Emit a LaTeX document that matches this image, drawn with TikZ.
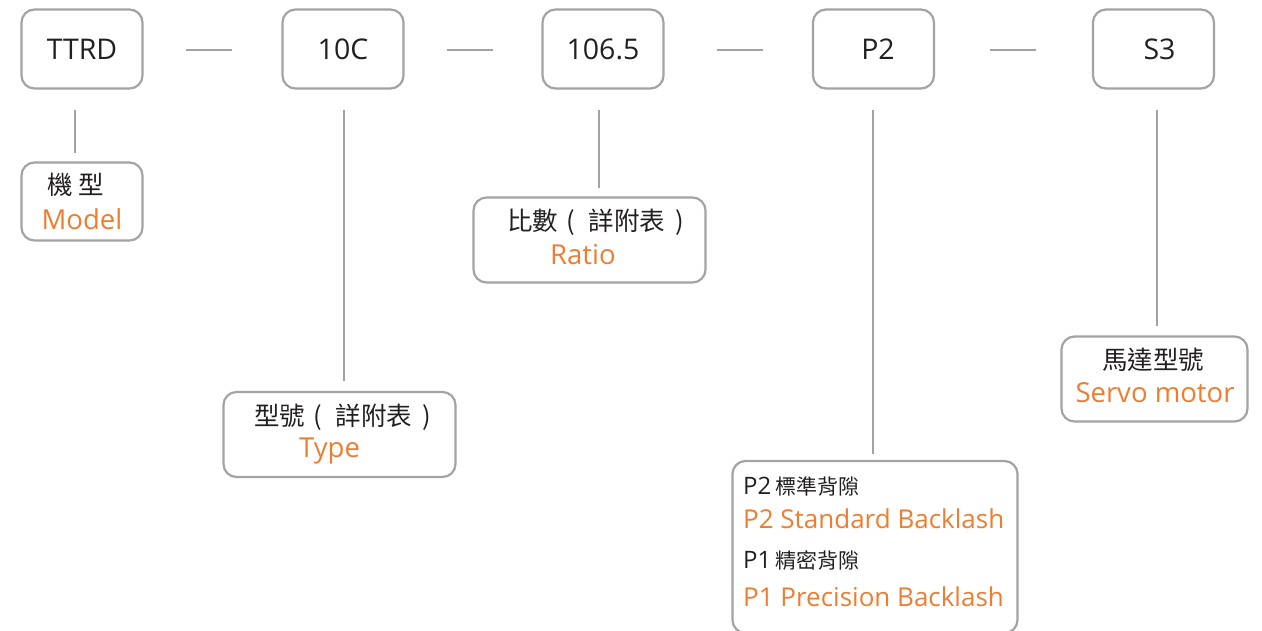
\documentclass[tikz,border=0pt]{standalone}
\usepackage{fontspec}
\setmainfont{Open Sans}
\newfontfamily\cjk{Noto Sans CJK TC}
\definecolor{frame}{HTML}{A3A3A5}
\definecolor{ink}{HTML}{231F20}
\definecolor{accent}{HTML}{ED7D31}
\newcommand{\paren}[5]{#1\hspace{#2}(\hspace{#3}#4\hspace{#5})}
\begin{document}
\begin{tikzpicture}[x=1pt,y=-1pt,
  box/.style={draw=frame, line width=2.2pt, rounded corners=13pt, inner sep=0pt},
  topbox/.style={box, minimum width=121pt, minimum height=79pt, font=\fontsize{28.5}{32}\selectfont, text=ink},
  link/.style={draw=frame, line width=2pt},
  zh/.style={inner sep=0pt, text=ink, font=\cjk\fontsize{25.5}{28}\selectfont},
  en/.style={inner sep=0pt, text=accent, font=\fontsize{27.5}{30}\selectfont},
  zhs/.style={inner sep=0pt, text=ink, font=\fontsize{24}{28}\selectfont},
  ens/.style={inner sep=0pt, text=accent, font=\fontsize{26}{30}\selectfont}]
\useasboundingbox (0,0) rectangle (1262,630);
% top row
\node[topbox] (ttrd) at (82,49) {TTRD};
\node[topbox] (type) at (343,49) {10C};
\node[topbox] (ratio) at (603,49) {106.5};
\node[topbox] (back) at (873.5,49) {\hspace{9pt}P2};
\node[topbox] (motor) at (1153.5,49) {\hspace{12pt}S3};
% dashes between top boxes
\coordinate (d1a) at (186,50); \coordinate (d1b) at (232,50);
\coordinate (d2a) at (447,50); \coordinate (d2b) at (493,50);
\coordinate (d3a) at (717,50); \coordinate (d3b) at (763,50);
\coordinate (d4a) at (990,50); \coordinate (d4b) at (1036,50);
\draw[link] (d1a) -- (d1b);
\draw[link] (d2a) -- (d2b);
\draw[link] (d3a) -- (d3b);
\draw[link] (d4a) -- (d4b);
% lower boxes
\node[box, minimum width=121pt, minimum height=78pt] (modelbox) at (82,201.5) {};
\node[box, minimum width=232pt, minimum height=85pt] (typebox) at (339.5,434.5) {};
\node[box, minimum width=232pt, minimum height=85pt] (ratiobox) at (589.5,240) {};
\node[box, minimum width=285pt, minimum height=172pt] (backbox) at (875,547) {};
\node[box, minimum width=186pt, minimum height=85pt] (motorbox) at (1154.5,379) {};
% stems
\coordinate (s1) at (75,110); \coordinate (e1) at (75,153);
\coordinate (s2) at (344,110); \coordinate (e2) at (344,381);
\coordinate (s3) at (599,110); \coordinate (e3) at (599,188);
\coordinate (s4) at (873,110); \coordinate (e4) at (873,454);
\coordinate (s5) at (1157,110); \coordinate (e5) at (1157,326);
\draw[link] (s1) -- (e1);
\draw[link] (s2) -- (e2);
\draw[link] (s3) -- (e3);
\draw[link] (s4) -- (e4);
\draw[link] (s5) -- (e5);
% texts
\node[zh] (t1a) at (76,185) {機 型};
\node[en] (t1b) at (82,219) {Model};
\node[zh, anchor=west] (t2a) at (254,417) {\paren{型號}{8pt}{14pt}{詳附表}{10pt}};
\node[en, anchor=west] (t2b) at (299,451) {Type};
\node[zh, anchor=west] (t3a) at (507,222) {\paren{比數}{8pt}{14pt}{詳附表}{10pt}};
\node[en, anchor=west] (t3b) at (550,255) {Ratio};
\node[zh] (t5a) at (1153,360) {馬達型號};
\node[en] (t5b) at (1155,393) {Servo motor};
\node[zhs, anchor=west] (t4a) at (743,487) {P2\,{\cjk\fontsize{21}{24}\selectfont 標準背隙}};
\node[ens, anchor=west] (t4b) at (743,519) {P2 Standard Backlash};
\node[zhs, anchor=west] (t4c) at (743,561) {P1\,{\cjk\fontsize{21}{24}\selectfont 精密背隙}};
\node[ens, anchor=west] (t4d) at (743,597) {P1 Precision Backlash};
\end{tikzpicture}
\end{document}
